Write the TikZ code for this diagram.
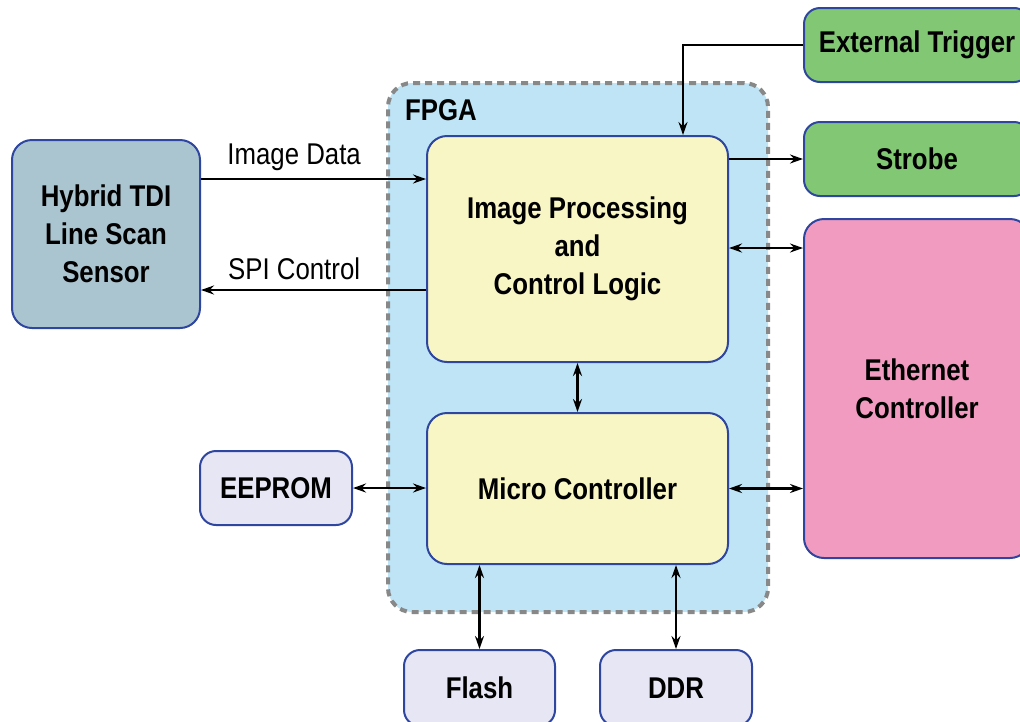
\documentclass[tikz,border=0pt]{standalone}
\usepackage{fontspec}
\setmainfont{Liberation Sans}[FakeStretch=0.86]
\usetikzlibrary{arrows.meta}
\definecolor{edgeblue}{HTML}{2E46A0}
\definecolor{sensorfill}{HTML}{AAC5D0}
\definecolor{fpgafill}{HTML}{BEE4F5}
\definecolor{logicfill}{HTML}{F8F6C4}
\definecolor{greenfill}{HTML}{82C874}
\definecolor{pinkfill}{HTML}{F29BC0}
\definecolor{memfill}{HTML}{E6E6F4}
\definecolor{fpgaedge}{HTML}{888888}
\tikzset{
  blk/.style={draw=edgeblue, line width=2pt, rounded corners=20pt, inner sep=0pt,
    align=center, font=\fontsize{30}{38}\selectfont\bfseries},
  smallblk/.style={blk, rounded corners=16pt},
  arr/.style={draw=black, line width=2.3pt, -{Stealth[length=13pt,width=9pt]}},
  darr/.style={draw=black, line width=2.3pt, {Stealth[length=13pt,width=9pt]}-{Stealth[length=13pt,width=9pt]}},
  lbl/.style={font=\fontsize{30}{36}\selectfont, inner sep=0pt}
}
\begin{document}
\begin{tikzpicture}[x=1pt,y=-1pt]
\useasboundingbox (0,0) rectangle (1020,721);
\clip (0,0) rectangle (1020,721);

% FPGA region
\node[draw=fpgaedge, fill=fpgafill, line width=4pt, dash pattern=on 7pt off 5pt,
      rounded corners=24pt, minimum width=380pt, minimum height=529pt, inner sep=0pt]
      (fpga) at (578,347.5) {};
\node[lbl, font=\fontsize{30}{36}\selectfont\bfseries, anchor=west] (fpgalbl) at (405,110) {FPGA};

% blocks
\node[blk, fill=sensorfill, minimum width=188pt, minimum height=188pt] (sensor) at (106,234)
  {Hybrid TDI\\Line Scan\\Sensor};
\node[blk, fill=logicfill, minimum width=301pt, minimum height=226pt] (ip) at (577.5,249)
  {Image Processing\\and\\Control Logic};
\node[blk, fill=logicfill, minimum width=301pt, minimum height=151pt] (mc) at (577.5,488.5)
  {Micro Controller};
\node[smallblk, fill=greenfill, minimum width=226pt, minimum height=74pt] (et) at (917,45)
  {External Trigger};
\node[smallblk, fill=greenfill, minimum width=226pt, minimum height=74pt] (st) at (917,159)
  {Strobe};
\node[blk, fill=pinkfill, minimum width=226pt, minimum height=339pt] (eth) at (917,388.5)
  {Ethernet\\Controller};
\node[smallblk, fill=memfill, minimum width=152pt, minimum height=74pt] (ee) at (276,488)
  {EEPROM};
\node[smallblk, fill=memfill, minimum width=151pt, minimum height=76pt] (fl) at (479.5,688)
  {Flash};
\node[smallblk, fill=memfill, minimum width=152pt, minimum height=76pt] (ddr) at (676,688)
  {DDR};

% connector levels
\coordinate (ydata) at (0,179);
\coordinate (yspi) at (0,290);
\coordinate (yeth1) at (0,248);
\coordinate (xtrig) at (683,0);

% connectors
\draw[arr] (sensor.east |- ydata) -- (ip.west |- ydata)
  node[lbl, pos=0.414, above=7pt] (datalbl) {Image Data};
\draw[arr] (ip.west |- yspi) -- (sensor.east |- yspi)
  node[lbl, pos=0.586, above=9pt] (spilbl) {SPI Control};
\draw[arr] (et.west) -| (ip.north -| xtrig);
\draw[arr] (ip.east |- st.west) -- (st.west);
\draw[darr] (ip.east |- yeth1) -- (eth.west |- yeth1);
\draw[darr] (mc.east) -- (eth.west |- mc.east);
\draw[darr] (ip.south) -- (mc.north);
\draw[darr] (ee.east) -- (mc.west |- ee.east);
\draw[darr] (fl.north |- mc.south) -- (fl.north);
\draw[darr] (ddr.north |- mc.south) -- (ddr.north);
\end{tikzpicture}
\end{document}
